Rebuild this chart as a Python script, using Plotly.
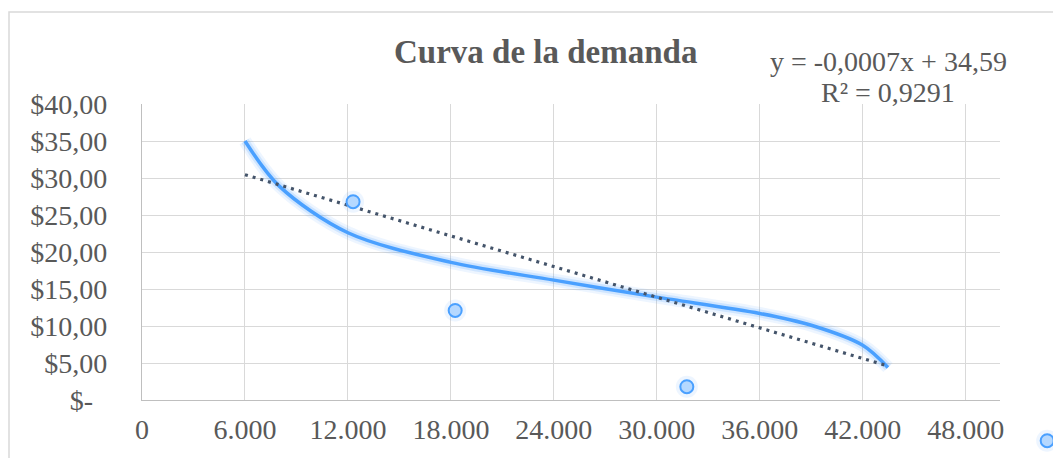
import plotly.graph_objects as go

# ---- data ----
QTY = [6000, 8000, 12000, 18000, 24000, 30000, 36000, 39000, 42000, 43470]
PRICE = [35.0, 28.9, 22.6, 18.6, 16.2, 13.9, 11.7, 10.1, 7.4, 4.4]

MARK_X = [12300, 18250, 31750, 52750]
MARK_Y = [26.8, 12.1, 1.8, -5.5]

TREND_SLOPE = -0.00069
TREND_INTERCEPT = 34.59

X_RANGE = [0, 50000]
Y_RANGE = [0, 40]
X_TICKS = [0, 6000, 12000, 18000, 24000, 30000, 36000, 42000, 48000]
X_LABELS = ["0", "6.000", "12.000", "18.000", "24.000", "30.000", "36.000", "42.000", "48.000"]
Y_TICKS = [0, 5, 10, 15, 20, 25, 30, 35, 40]
Y_LABELS = ["$-\u2002", "$5,00", "$10,00", "$15,00", "$20,00", "$25,00", "$30,00", "$35,00", "$40,00"]

TITLE = "Curva de la demanda"
EQ_LINE1 = "y = -0,0007x + 34,59"
EQ_LINE2 = "R² = 0,9291"

# ---- layout geometry (pixels) ----
W, H = 1053, 458
L, R, T, B = 142, 1000, 104, 400   # plot-area edges in pixels

def px(xp):
    return xp / W

def py(yp):
    return (H - yp) / H

# full-figure axes so that markers outside the plot area still show
xu = (X_RANGE[1] - X_RANGE[0]) / (R - L)
yu = (Y_RANGE[1] - Y_RANGE[0]) / (B - T)
X2_RANGE = [X_RANGE[0] - L * xu, X_RANGE[1] + (W - R) * xu]
Y2_RANGE = [Y_RANGE[0] - (H - B) * yu, Y_RANGE[1] + T * yu]

FONT = "Liberation Serif, Times New Roman, serif"
GREY = "#595959"
BLUE = "#4aa0ff"

fig = go.Figure()

# glow under the curve
for w, a in [(13, 0.10), (8, 0.18)]:
    fig.add_trace(go.Scatter(x=QTY, y=PRICE, mode="lines",
                             line=dict(color=f"rgba(74,160,255,{a})", width=w, shape="spline", smoothing=0.9),
                             hoverinfo="skip", showlegend=False))

fig.add_trace(go.Scatter(x=QTY, y=PRICE, mode="lines",
                         line=dict(color=BLUE, width=3.5, shape="spline", smoothing=0.9),
                         showlegend=False))

# linear trendline
tx = [min(QTY), max(QTY)]
ty = [TREND_SLOPE * v + TREND_INTERCEPT for v in tx]
fig.add_trace(go.Scatter(x=tx, y=ty, mode="lines",
                         line=dict(color="#44546a", width=3.2, dash="3px,5px"),
                         showlegend=False))

# markers (with soft glow) on full-figure axes
fig.add_trace(go.Scatter(x=MARK_X, y=MARK_Y, mode="markers", xaxis="x2", yaxis="y2",
                         marker=dict(size=22, color="rgba(74,160,255,0.10)", line=dict(width=0)),
                         hoverinfo="skip", showlegend=False))
fig.add_trace(go.Scatter(x=MARK_X, y=MARK_Y, mode="markers", xaxis="x2", yaxis="y2",
                         marker=dict(size=13, color="#b5d8ff", line=dict(color=BLUE, width=2)),
                         showlegend=False))

# chart border
fig.add_shape(type="rect", xref="paper", yref="paper",
              x0=px(9), x1=px(1100), y0=py(500), y1=py(12),
              line=dict(color="#d9d9d9", width=1.5), fillcolor="rgba(0,0,0,0)", layer="below")

fig.add_annotation(text=f"<b>{TITLE}</b>", xref="paper", yref="paper",
                   x=px(545), y=py(52), xanchor="center", yanchor="middle",
                   showarrow=False, font=dict(family=FONT, size=33, color=GREY))
fig.add_annotation(text=EQ_LINE1, xref="paper", yref="paper",
                   x=px(888), y=py(61), xanchor="center", yanchor="middle",
                   showarrow=False, font=dict(family=FONT, size=28, color=GREY))
fig.add_annotation(text=EQ_LINE2, xref="paper", yref="paper",
                   x=px(888), y=py(93), xanchor="center", yanchor="middle",
                   showarrow=False, font=dict(family=FONT, size=28, color=GREY))

fig.update_layout(
    width=W, height=H,
    margin=dict(l=0, r=0, t=0, b=0, autoexpand=False),
    paper_bgcolor="white", plot_bgcolor="rgba(0,0,0,0)",
    font=dict(family=FONT, color=GREY),
    xaxis=dict(domain=[L / W, R / W], range=X_RANGE, tickmode="array", tickvals=X_TICKS, ticktext=X_LABELS,
               showgrid=True, gridcolor="#d9d9d9", gridwidth=1.4, automargin=False,
               showline=True, linecolor="#bfbfbf", linewidth=1.4, zeroline=False,
               ticks="", ticklabelstandoff=4,
               tickfont=dict(family=FONT, size=28, color=GREY)),
    yaxis=dict(domain=[(H - B) / H, (H - T) / H], range=Y_RANGE, tickmode="array", tickvals=Y_TICKS,
               ticktext=Y_LABELS,
               showgrid=True, gridcolor="#d9d9d9", gridwidth=1.4, automargin=False,
               showline=True, linecolor="#bfbfbf", linewidth=1.4, zeroline=False,
               ticks="", ticklabelstandoff=28,
               tickfont=dict(family=FONT, size=28, color=GREY)),
    xaxis2=dict(domain=[0, 1], range=X2_RANGE, visible=False, anchor="y2"),
    yaxis2=dict(domain=[0, 1], range=Y2_RANGE, visible=False, anchor="x2"),
)

fig.write_html("out.html", config={"displayModeBar": False},
               post_script="document.body.style.margin='0';document.body.style.overflow='hidden';")
